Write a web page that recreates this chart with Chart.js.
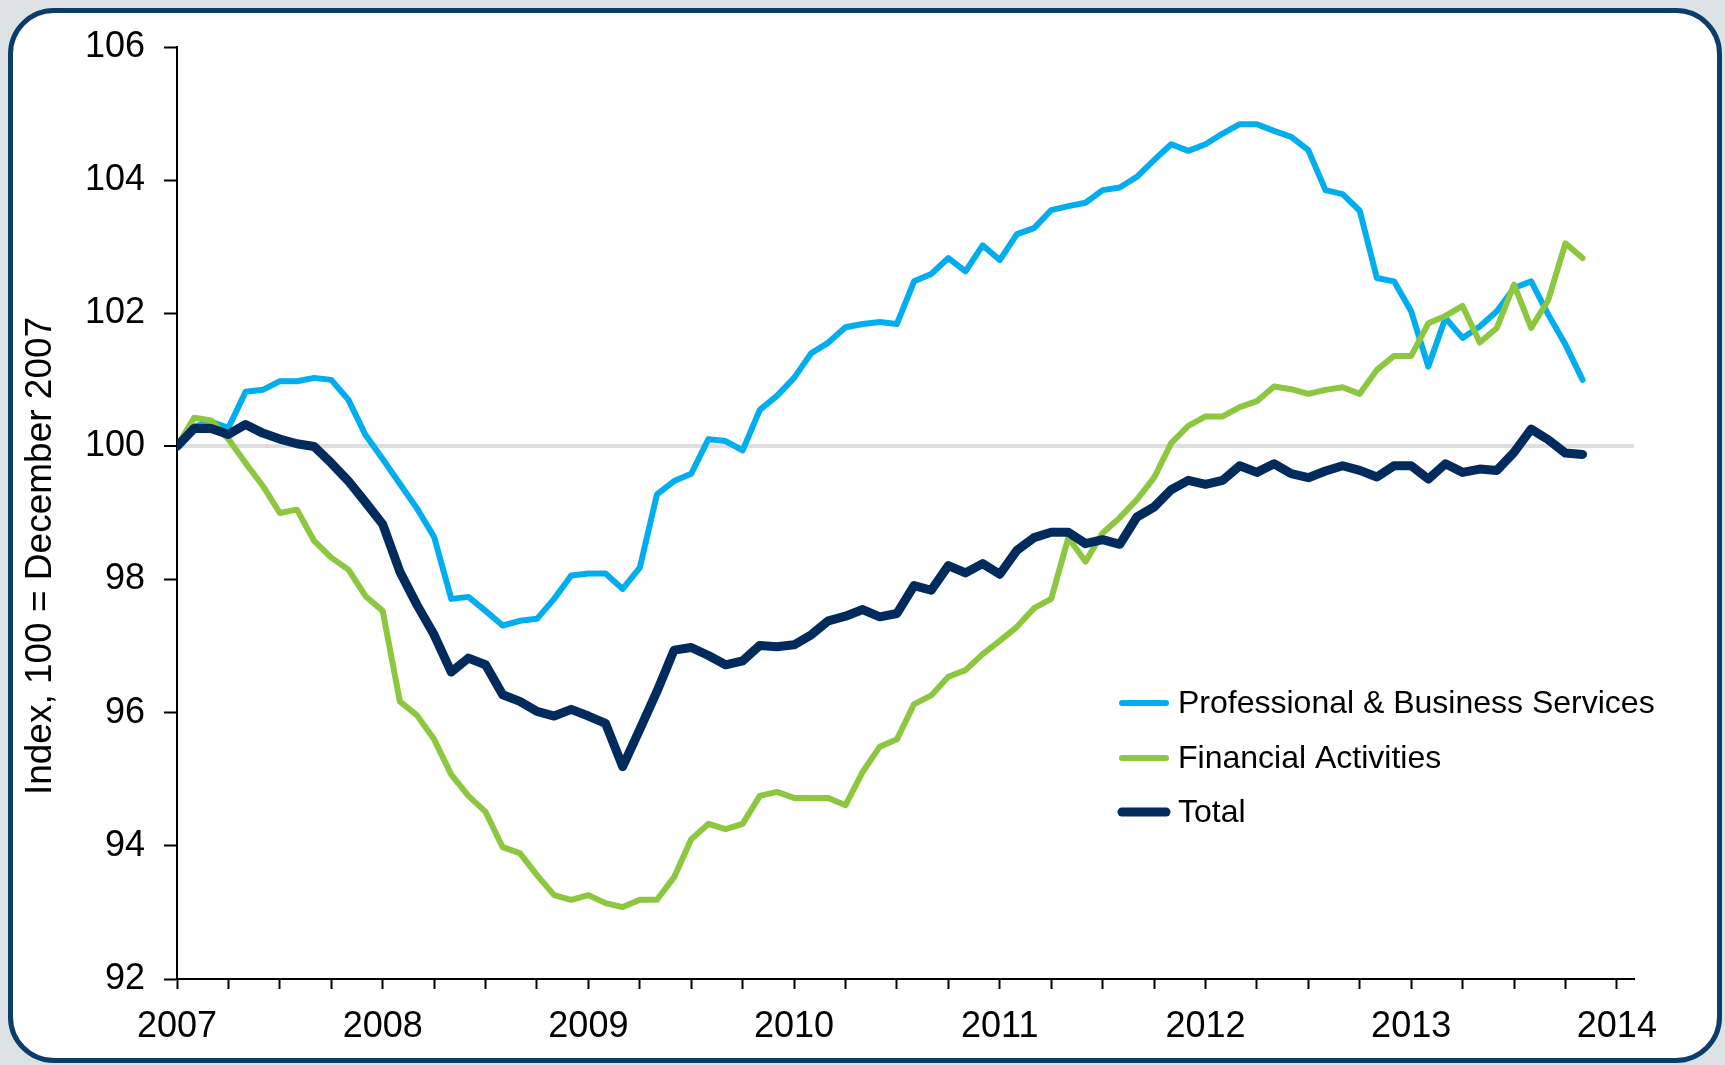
<!DOCTYPE html>
<html>
<head>
<meta charset="utf-8">
<script src="https://cdn.jsdelivr.net/npm/chart.js@4.4.1/dist/chart.umd.min.js"></script>
<style>
  html, body { margin: 0; padding: 0; background: #dde2e4; }
  #frame {
    position: absolute; left: 8px; top: 8px; width: 1714px; height: 1055px;
    box-sizing: border-box; border: 5px solid #0b3d6b; border-radius: 46px; background: #fff;
  }
  #chart { position: absolute; left: 0; top: 0; }
</style>
</head>
<body>
<div id="frame"></div>
<canvas id="chart" width="1725" height="1065"></canvas>
<script>
// months since the start of the axis (0 = "2007" tick)
const months = Array.from({ length: 83 }, (_, i) => i);
const yearLabels = ['2007', '2008', '2009', '2010', '2011', '2012', '2013', '2014'];

const profBusiness = [
    100, 100.30, 100.37, 100.28, 100.82, 100.85, 100.98, 100.98, 101.03, 101.00,
    100.70, 100.17, 99.81, 99.44, 99.07, 98.64, 97.71, 97.74, 97.53, 97.31,
    97.38, 97.41, 97.71, 98.06, 98.09, 98.09, 97.86, 98.18, 99.28, 99.48,
    99.59, 100.11, 100.08, 99.94, 100.55, 100.76, 101.03, 101.40, 101.56, 101.79,
    101.84, 101.87, 101.84, 102.48, 102.59, 102.83, 102.63, 103.02, 102.80, 103.19,
    103.28, 103.55, 103.61, 103.66, 103.85, 103.89, 104.05, 104.30, 104.54, 104.44,
    104.54, 104.70, 104.84, 104.84, 104.74, 104.65, 104.45, 103.85, 103.79, 103.54,
    102.53, 102.48, 102.03, 101.20, 101.93, 101.63, 101.80, 102.03, 102.38, 102.48,
    101.98, 101.53, 101.00
];
const financial = [
    100, 100.43, 100.39, 100.11, 99.75, 99.41, 99.00, 99.05, 98.58, 98.33,
    98.15, 97.75, 97.53, 96.17, 95.96, 95.60, 95.07, 94.75, 94.51, 93.98,
    93.89, 93.56, 93.26, 93.19, 93.26, 93.14, 93.08, 93.19, 93.19, 93.53,
    94.10, 94.33, 94.25, 94.33, 94.75, 94.81, 94.72, 94.72, 94.72, 94.61,
    95.11, 95.49, 95.60, 96.13, 96.26, 96.54, 96.64, 96.88, 97.08, 97.29,
    97.57, 97.71, 98.63, 98.27, 98.70, 98.93, 99.20, 99.53, 100.05, 100.31,
    100.45, 100.45, 100.59, 100.68, 100.90, 100.86, 100.79, 100.85, 100.89, 100.79,
    101.15, 101.36, 101.36, 101.85, 101.96, 102.11, 101.56, 101.78, 102.43, 101.78,
    102.20, 103.05, 102.83
];
const total = [
    100, 100.27, 100.27, 100.18, 100.33, 100.20, 100.11, 100.04, 100.00, 99.75,
    99.48, 99.16, 98.83, 98.12, 97.62, 97.17, 96.61, 96.82, 96.72, 96.27,
    96.17, 96.02, 95.95, 96.05, 95.95, 95.84, 95.19, 95.75, 96.32, 96.94,
    96.98, 96.86, 96.72, 96.78, 97.01, 96.99, 97.02, 97.17, 97.38, 97.45,
    97.55, 97.44, 97.49, 97.91, 97.84, 98.21, 98.10, 98.24, 98.08, 98.44,
    98.63, 98.71, 98.71, 98.54, 98.60, 98.53, 98.94, 99.09, 99.35, 99.49,
    99.43, 99.49, 99.71, 99.61, 99.74, 99.59, 99.53, 99.63, 99.71, 99.64,
    99.54, 99.71, 99.71, 99.51, 99.74, 99.61, 99.66, 99.64, 99.91, 100.26,
    100.10, 99.90, 99.88
];

const FONT = '"Liberation Sans", Arial, sans-serif';

// legend inside the plot + rotated y title
const extras = {
    id: 'extras',
    afterDraw(chart) {
        const ctx = chart.ctx;
        ctx.save();
        // y axis title
        ctx.translate(41, 556);
        ctx.rotate(-Math.PI / 2);
        ctx.font = '37px ' + FONT;
        ctx.fillStyle = '#000';
        ctx.textAlign = 'center';
        ctx.textBaseline = 'middle';
        ctx.fillText('Index, 100 = December 2007', 0, 0);
        ctx.restore();

        // legend
        const rows = [703, 758, 812];
        ctx.save();
        ctx.font = '32px ' + FONT;
        ctx.textBaseline = 'middle';
        ctx.textAlign = 'left';
        chart.data.datasets.forEach((ds, i) => {
            ctx.strokeStyle = ds.borderColor;
            ctx.lineWidth = ds.borderWidth;
            ctx.lineCap = 'round';
            ctx.beginPath();
            ctx.moveTo(1122, rows[i]);
            ctx.lineTo(1166, rows[i]);
            ctx.stroke();
            ctx.fillStyle = '#000';
            ctx.fillText(ds.label, 1178, rows[i] + 1);
        });
        ctx.restore();
    }
};

new Chart(document.getElementById('chart'), {
    type: 'line',
    data: {
        labels: months,
        datasets: [
            { label: 'Professional & Business Services', data: profBusiness, borderColor: '#00aeef', borderWidth: 6, order: 2 },
            { label: 'Financial Activities', data: financial, borderColor: '#8dc63f', borderWidth: 6, order: 1 },
            { label: 'Total', data: total, borderColor: '#002b5c', borderWidth: 9, order: 0 }
        ]
    },
    options: {
        responsive: false,
        animation: false,
        layout: { padding: { left: 0, top: 47, right: 91, bottom: 0 } },
        elements: {
            point: { radius: 0 },
            line: { tension: 0, borderJoinStyle: 'round', borderCapStyle: 'round' }
        },
        plugins: {
            legend: { display: false },
            tooltip: { enabled: false }
        },
        scales: {
            x: {
                type: 'linear',
                min: 0,
                max: 85,
                afterFit: (scale) => { scale.height = 86; },
                border: { display: true, color: '#000', width: 2 },
                grid: { drawOnChartArea: false, tickLength: 10, tickColor: '#000', tickWidth: 2 },
                ticks: {
                    stepSize: 3,
                    includeBounds: false,
                    autoSkip: false,
                    maxRotation: 0,
                    padding: 16,
                    color: '#000',
                    font: { family: FONT, size: 36 },
                    callback: (v) => (v % 12 === 0 ? yearLabels[v / 12] : '')
                }
            },
            y: {
                min: 92,
                max: 106,
                afterFit: (scale) => { scale.width = 177; },
                border: { display: true, color: '#000', width: 2 },
                grid: {
                    color: (c) => (c.tick && c.tick.value === 100 ? '#dedede' : 'rgba(0,0,0,0)'),
                    lineWidth: (c) => (c.tick && c.tick.value === 100 ? 4 : 1),
                    tickLength: 13,
                    tickColor: '#000',
                    tickWidth: 2
                },
                ticks: {
                    stepSize: 2,
                    padding: 19,
                    color: '#000',
                    font: { family: FONT, size: 36 }
                }
            }
        }
    },
    plugins: [extras]
});
</script>
</body>
</html>
